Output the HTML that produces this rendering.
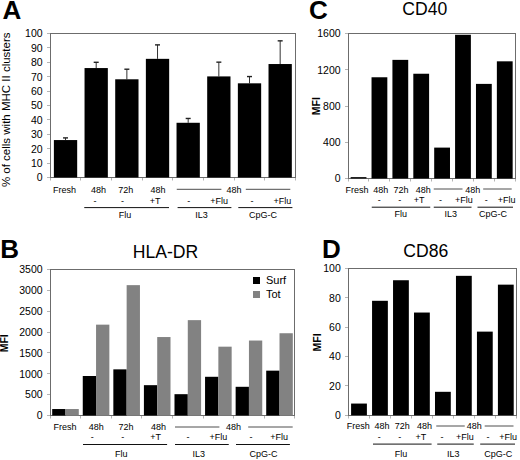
<!DOCTYPE html>
<html><head><meta charset="utf-8"><style>
html,body{margin:0;padding:0;background:#fff;width:520px;height:460px;overflow:hidden}
svg{display:block}
text{font-family:"Liberation Sans", sans-serif}
</style></head><body>
<svg width="520" height="460" viewBox="0 0 520 460" font-family='"Liberation Sans", sans-serif'>
<rect width="520" height="460" fill="#fff"/>
<line x1="50.00" y1="33.50" x2="296.00" y2="33.50" stroke="#6c6c6c" stroke-width="1"/>
<line x1="295.50" y1="33.50" x2="295.50" y2="177.50" stroke="#6c6c6c" stroke-width="1"/>
<line x1="50.50" y1="33.00" x2="50.50" y2="178.00" stroke="#6c6c6c" stroke-width="1"/>
<line x1="50.00" y1="177.50" x2="296.00" y2="177.50" stroke="#6c6c6c" stroke-width="1"/>
<line x1="50.50" y1="178.00" x2="50.50" y2="180.50" stroke="#b4b4b4" stroke-width="1"/>
<line x1="80.50" y1="178.00" x2="80.50" y2="180.50" stroke="#b4b4b4" stroke-width="1"/>
<line x1="111.50" y1="178.00" x2="111.50" y2="180.50" stroke="#b4b4b4" stroke-width="1"/>
<line x1="142.50" y1="178.00" x2="142.50" y2="180.50" stroke="#b4b4b4" stroke-width="1"/>
<line x1="172.50" y1="178.00" x2="172.50" y2="180.50" stroke="#b4b4b4" stroke-width="1"/>
<line x1="203.50" y1="178.00" x2="203.50" y2="180.50" stroke="#b4b4b4" stroke-width="1"/>
<line x1="234.50" y1="178.00" x2="234.50" y2="180.50" stroke="#b4b4b4" stroke-width="1"/>
<line x1="264.50" y1="178.00" x2="264.50" y2="180.50" stroke="#b4b4b4" stroke-width="1"/>
<line x1="295.50" y1="178.00" x2="295.50" y2="180.50" stroke="#b4b4b4" stroke-width="1"/>
<line x1="47.00" y1="177.50" x2="50.00" y2="177.50" stroke="#b4b4b4" stroke-width="1"/>
<text x="42.60" y="181.30" font-size="10.5" text-anchor="end" fill="#000">0</text>
<line x1="47.00" y1="163.50" x2="50.00" y2="163.50" stroke="#b4b4b4" stroke-width="1"/>
<text x="42.60" y="166.90" font-size="10.5" text-anchor="end" fill="#000">10</text>
<line x1="47.00" y1="148.50" x2="50.00" y2="148.50" stroke="#b4b4b4" stroke-width="1"/>
<text x="42.60" y="152.50" font-size="10.5" text-anchor="end" fill="#000">20</text>
<line x1="47.00" y1="134.50" x2="50.00" y2="134.50" stroke="#b4b4b4" stroke-width="1"/>
<text x="42.60" y="138.10" font-size="10.5" text-anchor="end" fill="#000">30</text>
<line x1="47.00" y1="119.50" x2="50.00" y2="119.50" stroke="#b4b4b4" stroke-width="1"/>
<text x="42.60" y="123.70" font-size="10.5" text-anchor="end" fill="#000">40</text>
<line x1="47.00" y1="105.50" x2="50.00" y2="105.50" stroke="#b4b4b4" stroke-width="1"/>
<text x="42.60" y="109.30" font-size="10.5" text-anchor="end" fill="#000">50</text>
<line x1="47.00" y1="91.50" x2="50.00" y2="91.50" stroke="#b4b4b4" stroke-width="1"/>
<text x="42.60" y="94.90" font-size="10.5" text-anchor="end" fill="#000">60</text>
<line x1="47.00" y1="76.50" x2="50.00" y2="76.50" stroke="#b4b4b4" stroke-width="1"/>
<text x="42.60" y="80.50" font-size="10.5" text-anchor="end" fill="#000">70</text>
<line x1="47.00" y1="62.50" x2="50.00" y2="62.50" stroke="#b4b4b4" stroke-width="1"/>
<text x="42.60" y="66.10" font-size="10.5" text-anchor="end" fill="#000">80</text>
<line x1="47.00" y1="47.50" x2="50.00" y2="47.50" stroke="#b4b4b4" stroke-width="1"/>
<text x="42.60" y="51.70" font-size="10.5" text-anchor="end" fill="#000">90</text>
<line x1="47.00" y1="33.50" x2="50.00" y2="33.50" stroke="#b4b4b4" stroke-width="1"/>
<text x="42.60" y="37.30" font-size="10.5" text-anchor="end" fill="#000">100</text>
<line x1="65.53" y1="140.06" x2="65.53" y2="137.90" stroke="#333" stroke-width="1"/>
<line x1="63.03" y1="137.90" x2="68.03" y2="137.90" stroke="#222" stroke-width="1.4"/>
<rect x="53.88" y="140.06" width="23.30" height="37.44" fill="#000"/>
<line x1="96.19" y1="68.06" x2="96.19" y2="62.30" stroke="#333" stroke-width="1"/>
<line x1="93.69" y1="62.30" x2="98.69" y2="62.30" stroke="#222" stroke-width="1.4"/>
<rect x="84.54" y="68.06" width="23.30" height="109.44" fill="#000"/>
<line x1="126.86" y1="79.29" x2="126.86" y2="69.21" stroke="#333" stroke-width="1"/>
<line x1="124.36" y1="69.21" x2="129.36" y2="69.21" stroke="#222" stroke-width="1.4"/>
<rect x="115.21" y="79.29" width="23.30" height="98.21" fill="#000"/>
<line x1="157.52" y1="58.84" x2="157.52" y2="44.88" stroke="#333" stroke-width="1"/>
<line x1="155.02" y1="44.88" x2="160.02" y2="44.88" stroke="#222" stroke-width="1.4"/>
<rect x="145.87" y="58.84" width="23.30" height="118.66" fill="#000"/>
<line x1="188.18" y1="122.78" x2="188.18" y2="118.46" stroke="#333" stroke-width="1"/>
<line x1="185.68" y1="118.46" x2="190.68" y2="118.46" stroke="#222" stroke-width="1.4"/>
<rect x="176.53" y="122.78" width="23.30" height="54.72" fill="#000"/>
<line x1="218.84" y1="76.41" x2="218.84" y2="62.16" stroke="#333" stroke-width="1"/>
<line x1="216.34" y1="62.16" x2="221.34" y2="62.16" stroke="#222" stroke-width="1.4"/>
<rect x="207.19" y="76.41" width="23.30" height="101.09" fill="#000"/>
<line x1="249.51" y1="83.32" x2="249.51" y2="76.56" stroke="#333" stroke-width="1"/>
<line x1="247.01" y1="76.56" x2="252.01" y2="76.56" stroke="#222" stroke-width="1.4"/>
<rect x="237.86" y="83.32" width="23.30" height="94.18" fill="#000"/>
<line x1="280.17" y1="64.03" x2="280.17" y2="40.84" stroke="#333" stroke-width="1"/>
<line x1="277.67" y1="40.84" x2="282.67" y2="40.84" stroke="#222" stroke-width="1.4"/>
<rect x="268.52" y="64.03" width="23.30" height="113.47" fill="#000"/>
<text x="64.55" y="192.60" font-size="9" text-anchor="middle" fill="#000">Fresh</text>
<text x="98.60" y="192.60" font-size="9" text-anchor="middle" fill="#000">48h</text>
<text x="125.80" y="192.60" font-size="9" text-anchor="middle" fill="#000">72h</text>
<text x="158.10" y="192.60" font-size="9" text-anchor="middle" fill="#000">48h</text>
<text x="233.90" y="192.60" font-size="9" text-anchor="middle" fill="#000">48h</text>
<text x="95.05" y="203.50" font-size="9" text-anchor="middle" fill="#000">-</text>
<text x="122.50" y="203.50" font-size="9" text-anchor="middle" fill="#000">-</text>
<text x="155.10" y="203.50" font-size="9" text-anchor="middle" fill="#000">+T</text>
<text x="188.85" y="203.50" font-size="9" text-anchor="middle" fill="#000">-</text>
<text x="219.20" y="203.50" font-size="9" text-anchor="middle" fill="#000">+Flu</text>
<text x="252.05" y="203.50" font-size="9" text-anchor="middle" fill="#000">-</text>
<text x="282.45" y="203.50" font-size="9" text-anchor="middle" fill="#000">+Flu</text>
<text x="125.00" y="217.60" font-size="9" text-anchor="middle" fill="#000">Flu</text>
<text x="201.40" y="217.60" font-size="9" text-anchor="middle" fill="#000">IL3</text>
<text x="263.05" y="217.60" font-size="9" text-anchor="middle" fill="#000">CpG-C</text>
<line x1="84.25" y1="207.60" x2="169.00" y2="207.60" stroke="#111" stroke-width="1"/>
<line x1="177.60" y1="207.60" x2="231.40" y2="207.60" stroke="#111" stroke-width="1"/>
<line x1="238.30" y1="207.60" x2="292.40" y2="207.60" stroke="#111" stroke-width="1"/>
<line x1="176.75" y1="189.30" x2="221.40" y2="189.30" stroke="#4e4e4e" stroke-width="1"/>
<line x1="245.80" y1="189.30" x2="290.30" y2="189.30" stroke="#4e4e4e" stroke-width="1"/>
<text x="10.30" y="109.80" font-size="11.5" text-anchor="middle" fill="#000" transform="rotate(-90 10.3 109.8)">% of cells with MHC II clusters</text>
<text x="2.60" y="19.10" font-size="26" font-weight="bold" fill="#000">A</text>
<line x1="50.00" y1="269.50" x2="295.00" y2="269.50" stroke="#6c6c6c" stroke-width="1"/>
<line x1="294.50" y1="269.50" x2="294.50" y2="415.50" stroke="#6c6c6c" stroke-width="1"/>
<line x1="50.50" y1="269.00" x2="50.50" y2="416.00" stroke="#6c6c6c" stroke-width="1"/>
<line x1="50.00" y1="415.50" x2="295.00" y2="415.50" stroke="#6c6c6c" stroke-width="1"/>
<line x1="50.50" y1="416.00" x2="50.50" y2="418.50" stroke="#b4b4b4" stroke-width="1"/>
<line x1="80.50" y1="416.00" x2="80.50" y2="418.50" stroke="#b4b4b4" stroke-width="1"/>
<line x1="111.50" y1="416.00" x2="111.50" y2="418.50" stroke="#b4b4b4" stroke-width="1"/>
<line x1="141.50" y1="416.00" x2="141.50" y2="418.50" stroke="#b4b4b4" stroke-width="1"/>
<line x1="172.50" y1="416.00" x2="172.50" y2="418.50" stroke="#b4b4b4" stroke-width="1"/>
<line x1="203.50" y1="416.00" x2="203.50" y2="418.50" stroke="#b4b4b4" stroke-width="1"/>
<line x1="233.50" y1="416.00" x2="233.50" y2="418.50" stroke="#b4b4b4" stroke-width="1"/>
<line x1="264.50" y1="416.00" x2="264.50" y2="418.50" stroke="#b4b4b4" stroke-width="1"/>
<line x1="294.50" y1="416.00" x2="294.50" y2="418.50" stroke="#b4b4b4" stroke-width="1"/>
<line x1="47.00" y1="415.50" x2="50.00" y2="415.50" stroke="#b4b4b4" stroke-width="1"/>
<text x="42.60" y="419.30" font-size="10.5" text-anchor="end" fill="#000">0</text>
<line x1="47.00" y1="394.50" x2="50.00" y2="394.50" stroke="#b4b4b4" stroke-width="1"/>
<text x="42.60" y="398.44" font-size="10.5" text-anchor="end" fill="#000">500</text>
<line x1="47.00" y1="373.50" x2="50.00" y2="373.50" stroke="#b4b4b4" stroke-width="1"/>
<text x="42.60" y="377.59" font-size="10.5" text-anchor="end" fill="#000">1000</text>
<line x1="47.00" y1="352.50" x2="50.00" y2="352.50" stroke="#b4b4b4" stroke-width="1"/>
<text x="42.60" y="356.73" font-size="10.5" text-anchor="end" fill="#000">1500</text>
<line x1="47.00" y1="332.50" x2="50.00" y2="332.50" stroke="#b4b4b4" stroke-width="1"/>
<text x="42.60" y="335.87" font-size="10.5" text-anchor="end" fill="#000">2000</text>
<line x1="47.00" y1="311.50" x2="50.00" y2="311.50" stroke="#b4b4b4" stroke-width="1"/>
<text x="42.60" y="315.01" font-size="10.5" text-anchor="end" fill="#000">2500</text>
<line x1="47.00" y1="290.50" x2="50.00" y2="290.50" stroke="#b4b4b4" stroke-width="1"/>
<text x="42.60" y="294.16" font-size="10.5" text-anchor="end" fill="#000">3000</text>
<line x1="47.00" y1="269.50" x2="50.00" y2="269.50" stroke="#b4b4b4" stroke-width="1"/>
<text x="42.60" y="273.30" font-size="10.5" text-anchor="end" fill="#000">3500</text>
<rect x="52.19" y="409.03" width="13.30" height="6.47" fill="#000"/>
<rect x="65.49" y="409.03" width="13.30" height="6.47" fill="#828282"/>
<rect x="82.76" y="376.00" width="13.30" height="39.50" fill="#000"/>
<rect x="96.06" y="324.65" width="13.30" height="90.85" fill="#828282"/>
<rect x="113.34" y="369.36" width="13.30" height="46.14" fill="#000"/>
<rect x="126.64" y="285.14" width="13.30" height="130.36" fill="#828282"/>
<rect x="143.91" y="385.17" width="13.30" height="30.33" fill="#000"/>
<rect x="157.21" y="337.04" width="13.30" height="78.46" fill="#828282"/>
<rect x="174.49" y="394.18" width="13.30" height="21.32" fill="#000"/>
<rect x="187.79" y="320.14" width="13.30" height="95.36" fill="#828282"/>
<rect x="205.06" y="376.79" width="13.30" height="38.71" fill="#000"/>
<rect x="218.36" y="346.67" width="13.30" height="68.83" fill="#828282"/>
<rect x="235.64" y="386.80" width="13.30" height="28.70" fill="#000"/>
<rect x="248.94" y="340.54" width="13.30" height="74.96" fill="#828282"/>
<rect x="266.21" y="370.66" width="13.30" height="44.84" fill="#000"/>
<rect x="279.51" y="333.24" width="13.30" height="82.26" fill="#828282"/>
<text x="65.05" y="430.20" font-size="9" text-anchor="middle" fill="#000">Fresh</text>
<text x="96.30" y="430.20" font-size="9" text-anchor="middle" fill="#000">48h</text>
<text x="126.05" y="430.20" font-size="9" text-anchor="middle" fill="#000">72h</text>
<text x="158.40" y="430.20" font-size="9" text-anchor="middle" fill="#000">48h</text>
<text x="233.40" y="430.20" font-size="9" text-anchor="middle" fill="#000">48h</text>
<text x="92.30" y="440.40" font-size="9" text-anchor="middle" fill="#000">-</text>
<text x="122.80" y="440.40" font-size="9" text-anchor="middle" fill="#000">-</text>
<text x="155.60" y="440.40" font-size="9" text-anchor="middle" fill="#000">+T</text>
<text x="187.95" y="440.40" font-size="9" text-anchor="middle" fill="#000">-</text>
<text x="218.45" y="440.40" font-size="9" text-anchor="middle" fill="#000">+Flu</text>
<text x="250.90" y="440.40" font-size="9" text-anchor="middle" fill="#000">-</text>
<text x="279.05" y="440.40" font-size="9" text-anchor="middle" fill="#000">+Flu</text>
<text x="121.25" y="456.70" font-size="9" text-anchor="middle" fill="#000">Flu</text>
<text x="198.65" y="456.70" font-size="9" text-anchor="middle" fill="#000">IL3</text>
<text x="263.60" y="456.70" font-size="9" text-anchor="middle" fill="#000">CpG-C</text>
<line x1="83.00" y1="444.50" x2="167.10" y2="444.50" stroke="#111" stroke-width="1"/>
<line x1="175.00" y1="444.50" x2="228.75" y2="444.50" stroke="#111" stroke-width="1"/>
<line x1="236.00" y1="444.50" x2="289.90" y2="444.50" stroke="#111" stroke-width="1"/>
<line x1="175.00" y1="427.00" x2="219.40" y2="427.00" stroke="#4e4e4e" stroke-width="1"/>
<line x1="248.20" y1="427.00" x2="292.70" y2="427.00" stroke="#4e4e4e" stroke-width="1"/>
<text x="8.00" y="343.30" font-size="10.5" text-anchor="middle" font-weight="bold" fill="#000" transform="rotate(-90 8 343.3)">MFI</text>
<text x="0.20" y="258.00" font-size="26" font-weight="bold" fill="#000">B</text>
<text x="165.50" y="257.70" font-size="17.6" text-anchor="middle" fill="#000">HLA-DR</text>
<rect x="253.00" y="277.00" width="7.00" height="7.00" fill="#000"/>
<rect x="253.00" y="291.00" width="7.00" height="7.00" fill="#828282"/>
<text x="266.00" y="284.00" font-size="11" fill="#000">Surf</text>
<text x="266.00" y="298.00" font-size="11" fill="#000">Tot</text>
<line x1="348.00" y1="33.50" x2="516.00" y2="33.50" stroke="#6c6c6c" stroke-width="1"/>
<line x1="515.50" y1="33.50" x2="515.50" y2="178.50" stroke="#6c6c6c" stroke-width="1"/>
<line x1="348.50" y1="33.00" x2="348.50" y2="179.00" stroke="#6c6c6c" stroke-width="1"/>
<line x1="348.00" y1="178.50" x2="516.00" y2="178.50" stroke="#6c6c6c" stroke-width="1"/>
<line x1="348.50" y1="179.00" x2="348.50" y2="181.50" stroke="#b4b4b4" stroke-width="1"/>
<line x1="368.50" y1="179.00" x2="368.50" y2="181.50" stroke="#b4b4b4" stroke-width="1"/>
<line x1="389.50" y1="179.00" x2="389.50" y2="181.50" stroke="#b4b4b4" stroke-width="1"/>
<line x1="410.50" y1="179.00" x2="410.50" y2="181.50" stroke="#b4b4b4" stroke-width="1"/>
<line x1="431.50" y1="179.00" x2="431.50" y2="181.50" stroke="#b4b4b4" stroke-width="1"/>
<line x1="452.50" y1="179.00" x2="452.50" y2="181.50" stroke="#b4b4b4" stroke-width="1"/>
<line x1="473.50" y1="179.00" x2="473.50" y2="181.50" stroke="#b4b4b4" stroke-width="1"/>
<line x1="494.50" y1="179.00" x2="494.50" y2="181.50" stroke="#b4b4b4" stroke-width="1"/>
<line x1="515.50" y1="179.00" x2="515.50" y2="181.50" stroke="#b4b4b4" stroke-width="1"/>
<line x1="345.00" y1="178.50" x2="348.00" y2="178.50" stroke="#b4b4b4" stroke-width="1"/>
<text x="340.60" y="182.30" font-size="10.5" text-anchor="end" fill="#000">0</text>
<line x1="345.00" y1="142.50" x2="348.00" y2="142.50" stroke="#b4b4b4" stroke-width="1"/>
<text x="340.60" y="146.05" font-size="10.5" text-anchor="end" fill="#000">400</text>
<line x1="345.00" y1="106.50" x2="348.00" y2="106.50" stroke="#b4b4b4" stroke-width="1"/>
<text x="340.60" y="109.80" font-size="10.5" text-anchor="end" fill="#000">800</text>
<line x1="345.00" y1="69.50" x2="348.00" y2="69.50" stroke="#b4b4b4" stroke-width="1"/>
<text x="340.60" y="73.55" font-size="10.5" text-anchor="end" fill="#000">1200</text>
<line x1="345.00" y1="33.50" x2="348.00" y2="33.50" stroke="#b4b4b4" stroke-width="1"/>
<text x="340.60" y="37.30" font-size="10.5" text-anchor="end" fill="#000">1600</text>
<rect x="350.64" y="177.14" width="15.80" height="1.36" fill="#000"/>
<rect x="371.53" y="77.27" width="15.80" height="101.23" fill="#000"/>
<rect x="392.42" y="59.87" width="15.80" height="118.63" fill="#000"/>
<rect x="413.31" y="73.74" width="15.80" height="104.76" fill="#000"/>
<rect x="434.19" y="147.60" width="15.80" height="30.90" fill="#000"/>
<rect x="455.08" y="34.77" width="15.80" height="143.73" fill="#000"/>
<rect x="475.97" y="83.89" width="15.80" height="94.61" fill="#000"/>
<rect x="496.86" y="61.32" width="15.80" height="117.18" fill="#000"/>
<text x="357.10" y="192.70" font-size="9" text-anchor="middle" fill="#000">Fresh</text>
<text x="380.75" y="192.70" font-size="9" text-anchor="middle" fill="#000">48h</text>
<text x="401.05" y="192.70" font-size="9" text-anchor="middle" fill="#000">72h</text>
<text x="423.25" y="192.70" font-size="9" text-anchor="middle" fill="#000">48h</text>
<text x="472.70" y="192.70" font-size="9" text-anchor="middle" fill="#000">48h</text>
<text x="379.20" y="203.30" font-size="9" text-anchor="middle" fill="#000">-</text>
<text x="399.80" y="203.30" font-size="9" text-anchor="middle" fill="#000">-</text>
<text x="419.20" y="203.30" font-size="9" text-anchor="middle" fill="#000">+T</text>
<text x="440.60" y="203.30" font-size="9" text-anchor="middle" fill="#000">-</text>
<text x="464.00" y="203.30" font-size="9" text-anchor="middle" fill="#000">+Flu</text>
<text x="486.30" y="203.30" font-size="9" text-anchor="middle" fill="#000">-</text>
<text x="506.75" y="203.30" font-size="9" text-anchor="middle" fill="#000">+Flu</text>
<text x="400.80" y="216.60" font-size="9" text-anchor="middle" fill="#000">Flu</text>
<text x="450.65" y="216.60" font-size="9" text-anchor="middle" fill="#000">IL3</text>
<text x="493.00" y="216.60" font-size="9" text-anchor="middle" fill="#000">CpG-C</text>
<line x1="371.75" y1="207.20" x2="430.25" y2="207.20" stroke="#111" stroke-width="1"/>
<line x1="433.75" y1="207.20" x2="471.50" y2="207.20" stroke="#111" stroke-width="1"/>
<line x1="477.50" y1="207.20" x2="513.00" y2="207.20" stroke="#111" stroke-width="1"/>
<line x1="433.75" y1="189.00" x2="462.50" y2="189.00" stroke="#4e4e4e" stroke-width="1"/>
<line x1="483.20" y1="189.00" x2="511.70" y2="189.00" stroke="#4e4e4e" stroke-width="1"/>
<text x="319.90" y="106.20" font-size="10.5" text-anchor="middle" font-weight="bold" fill="#000" transform="rotate(-90 319.9 106.2)">MFI</text>
<text x="309.00" y="19.00" font-size="26" font-weight="bold" fill="#000">C</text>
<text x="424.75" y="15.20" font-size="17.6" text-anchor="middle" fill="#000">CD40</text>
<line x1="348.00" y1="268.50" x2="517.00" y2="268.50" stroke="#6c6c6c" stroke-width="1"/>
<line x1="516.50" y1="268.50" x2="516.50" y2="415.50" stroke="#6c6c6c" stroke-width="1"/>
<line x1="348.50" y1="268.00" x2="348.50" y2="416.00" stroke="#6c6c6c" stroke-width="1"/>
<line x1="348.00" y1="415.50" x2="517.00" y2="415.50" stroke="#6c6c6c" stroke-width="1"/>
<line x1="348.50" y1="416.00" x2="348.50" y2="418.50" stroke="#b4b4b4" stroke-width="1"/>
<line x1="369.50" y1="416.00" x2="369.50" y2="418.50" stroke="#b4b4b4" stroke-width="1"/>
<line x1="390.50" y1="416.00" x2="390.50" y2="418.50" stroke="#b4b4b4" stroke-width="1"/>
<line x1="411.50" y1="416.00" x2="411.50" y2="418.50" stroke="#b4b4b4" stroke-width="1"/>
<line x1="432.50" y1="416.00" x2="432.50" y2="418.50" stroke="#b4b4b4" stroke-width="1"/>
<line x1="453.50" y1="416.00" x2="453.50" y2="418.50" stroke="#b4b4b4" stroke-width="1"/>
<line x1="474.50" y1="416.00" x2="474.50" y2="418.50" stroke="#b4b4b4" stroke-width="1"/>
<line x1="495.50" y1="416.00" x2="495.50" y2="418.50" stroke="#b4b4b4" stroke-width="1"/>
<line x1="516.50" y1="416.00" x2="516.50" y2="418.50" stroke="#b4b4b4" stroke-width="1"/>
<line x1="345.00" y1="415.50" x2="348.00" y2="415.50" stroke="#b4b4b4" stroke-width="1"/>
<text x="340.80" y="419.10" font-size="10.5" text-anchor="end" fill="#000">0</text>
<line x1="345.00" y1="385.50" x2="348.00" y2="385.50" stroke="#b4b4b4" stroke-width="1"/>
<text x="340.80" y="389.74" font-size="10.5" text-anchor="end" fill="#000">20</text>
<line x1="345.00" y1="356.50" x2="348.00" y2="356.50" stroke="#b4b4b4" stroke-width="1"/>
<text x="340.80" y="360.38" font-size="10.5" text-anchor="end" fill="#000">40</text>
<line x1="345.00" y1="327.50" x2="348.00" y2="327.50" stroke="#b4b4b4" stroke-width="1"/>
<text x="340.80" y="331.02" font-size="10.5" text-anchor="end" fill="#000">60</text>
<line x1="345.00" y1="297.50" x2="348.00" y2="297.50" stroke="#b4b4b4" stroke-width="1"/>
<text x="340.80" y="301.66" font-size="10.5" text-anchor="end" fill="#000">80</text>
<line x1="345.00" y1="268.50" x2="348.00" y2="268.50" stroke="#b4b4b4" stroke-width="1"/>
<text x="340.80" y="272.30" font-size="10.5" text-anchor="end" fill="#000">100</text>
<rect x="351.09" y="403.56" width="15.80" height="11.74" fill="#000"/>
<rect x="372.06" y="300.80" width="15.80" height="114.50" fill="#000"/>
<rect x="393.04" y="280.24" width="15.80" height="135.06" fill="#000"/>
<rect x="414.01" y="312.54" width="15.80" height="102.76" fill="#000"/>
<rect x="434.99" y="391.81" width="15.80" height="23.49" fill="#000"/>
<rect x="455.96" y="275.84" width="15.80" height="139.46" fill="#000"/>
<rect x="476.94" y="331.62" width="15.80" height="83.68" fill="#000"/>
<rect x="497.91" y="284.65" width="15.80" height="130.65" fill="#000"/>
<text x="358.25" y="429.20" font-size="9" text-anchor="middle" fill="#000">Fresh</text>
<text x="382.10" y="429.20" font-size="9" text-anchor="middle" fill="#000">48h</text>
<text x="402.30" y="429.20" font-size="9" text-anchor="middle" fill="#000">72h</text>
<text x="424.60" y="429.20" font-size="9" text-anchor="middle" fill="#000">48h</text>
<text x="474.35" y="429.20" font-size="9" text-anchor="middle" fill="#000">48h</text>
<text x="379.20" y="440.30" font-size="9" text-anchor="middle" fill="#000">-</text>
<text x="399.75" y="440.30" font-size="9" text-anchor="middle" fill="#000">-</text>
<text x="420.90" y="440.30" font-size="9" text-anchor="middle" fill="#000">+T</text>
<text x="442.00" y="440.30" font-size="9" text-anchor="middle" fill="#000">-</text>
<text x="464.90" y="440.30" font-size="9" text-anchor="middle" fill="#000">+Flu</text>
<text x="488.10" y="440.30" font-size="9" text-anchor="middle" fill="#000">-</text>
<text x="508.25" y="440.30" font-size="9" text-anchor="middle" fill="#000">+Flu</text>
<text x="400.95" y="456.90" font-size="9" text-anchor="middle" fill="#000">Flu</text>
<text x="453.20" y="456.90" font-size="9" text-anchor="middle" fill="#000">IL3</text>
<text x="498.35" y="456.90" font-size="9" text-anchor="middle" fill="#000">CpG-C</text>
<line x1="373.00" y1="444.10" x2="431.60" y2="444.10" stroke="#111" stroke-width="1"/>
<line x1="437.25" y1="444.10" x2="473.75" y2="444.10" stroke="#111" stroke-width="1"/>
<line x1="480.20" y1="444.10" x2="515.00" y2="444.10" stroke="#111" stroke-width="1"/>
<line x1="436.25" y1="426.00" x2="464.75" y2="426.00" stroke="#4e4e4e" stroke-width="1"/>
<line x1="484.70" y1="426.00" x2="513.50" y2="426.00" stroke="#4e4e4e" stroke-width="1"/>
<text x="320.80" y="342.40" font-size="10.5" text-anchor="middle" font-weight="bold" fill="#000" transform="rotate(-90 320.8 342.4)">MFI</text>
<text x="322.00" y="258.00" font-size="26" font-weight="bold" fill="#000">D</text>
<text x="425.75" y="257.30" font-size="17.6" text-anchor="middle" fill="#000">CD86</text>
</svg>
</body></html>
